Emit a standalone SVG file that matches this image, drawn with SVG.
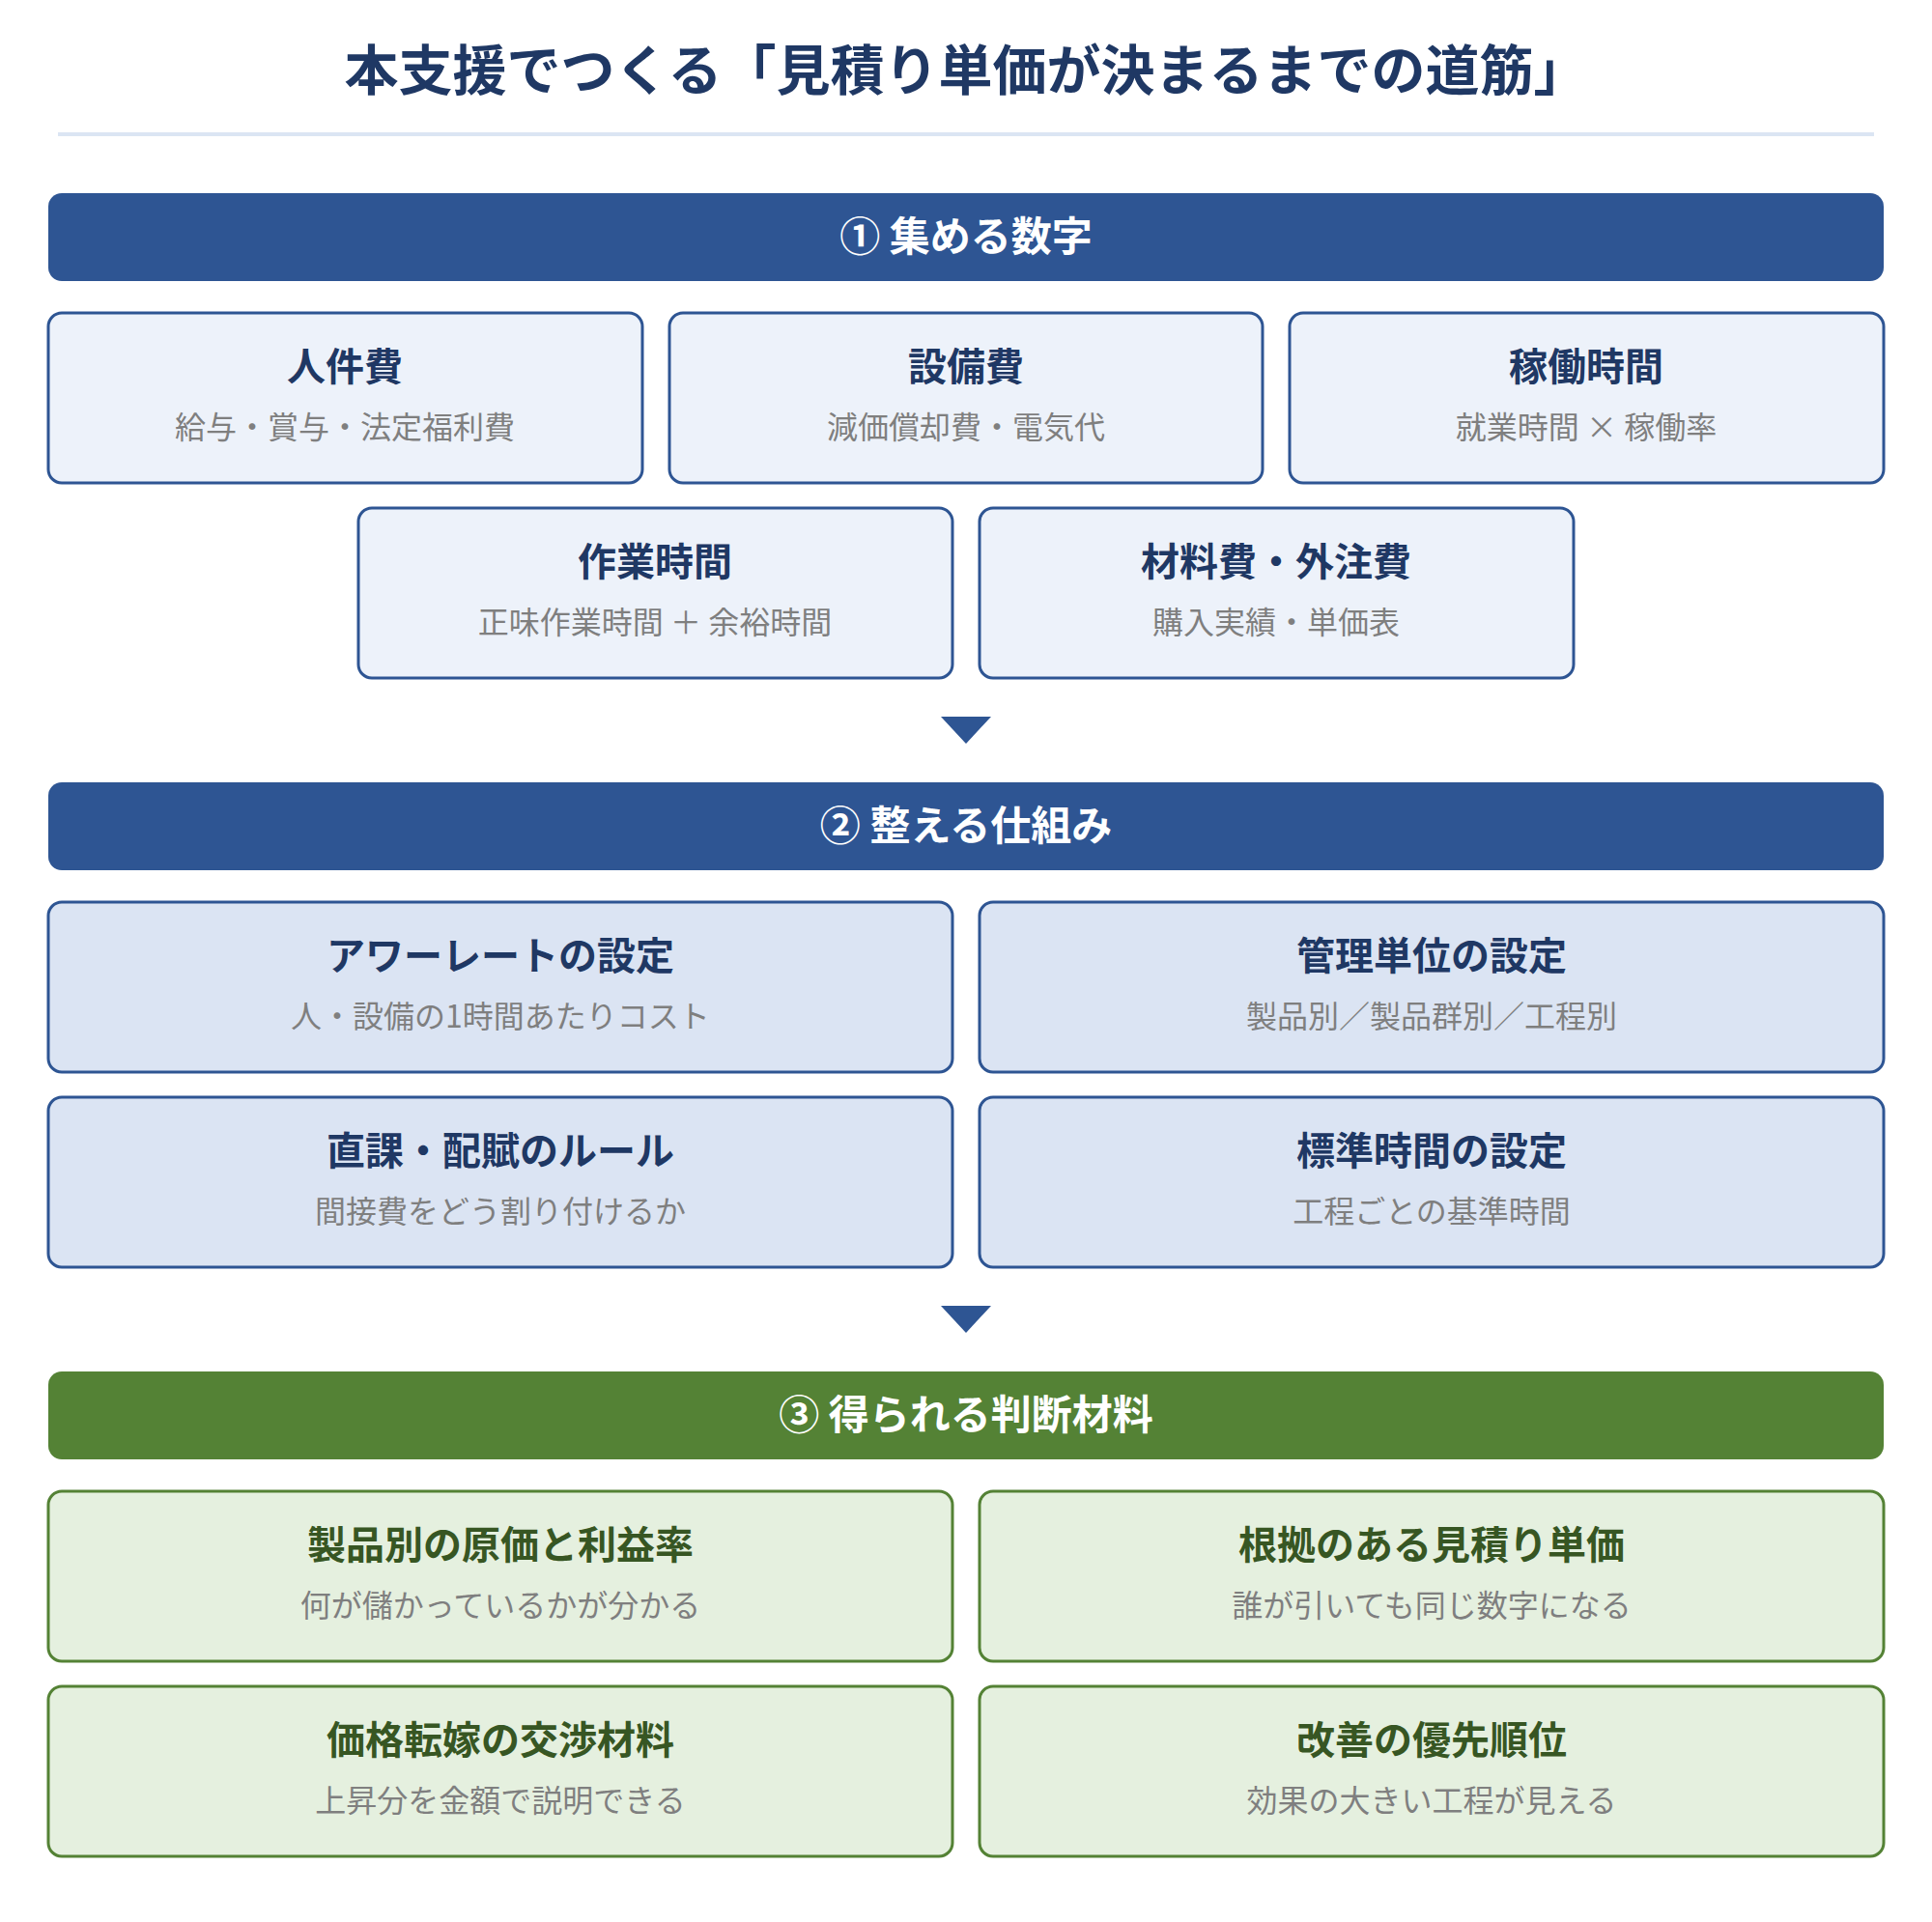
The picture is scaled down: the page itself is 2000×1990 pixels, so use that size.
<svg xmlns="http://www.w3.org/2000/svg" width="2000" height="1990" viewBox="0 0 2000 1990">
<style>
text{font-family:"Noto Sans CJK JP","Noto Sans",sans-serif;text-anchor:middle}
.ttl{font-size:56px;font-weight:700;fill:#1f3864}
.bar{fill:#2e5593}
.barg{fill:#548235}
.bt{font-size:42px;font-weight:700;fill:#fff}
.b1{fill:#edf2fa;stroke:#2e5593;stroke-width:3}
.b2{fill:#dbe4f3;stroke:#2e5593;stroke-width:3}
.b3{fill:#e5f0df;stroke:#548235;stroke-width:3}
.h{font-size:40px;font-weight:700;fill:#1f3864}
.hg{font-size:40px;font-weight:700;fill:#375623}
.s{font-size:32px;fill:#7f7f7f}
.arr{fill:#2e5593}
</style>
<rect width="2000" height="1990" fill="#fff"/>
<text class="ttl" x="1000" y="93">本支援でつくる「見積り単価が決まるまでの道筋」</text>
<line x1="60" y1="139" x2="1940" y2="139" stroke="#dbe5f3" stroke-width="4"/>
<g id="sec1"><rect class="bar" x="50" y="200" width="1900" height="91" rx="14"/><text class="bt" x="1000" y="260">① 集める数字</text></g>
<g id="n1"><rect class="b1" x="50" y="324" width="615" height="176" rx="14"/><text class="h" x="357" y="394">人件費</text><text class="s" x="357" y="454">給与・賞与・法定福利費</text></g>
<g id="n2"><rect class="b1" x="693" y="324" width="614" height="176" rx="14"/><text class="h" x="1000" y="394">設備費</text><text class="s" x="1000" y="454">減価償却費・電気代</text></g>
<g id="n3"><rect class="b1" x="1335" y="324" width="615" height="176" rx="14"/><text class="h" x="1642" y="394">稼働時間</text><text class="s" x="1642" y="454">就業時間 × 稼働率</text></g>
<g id="n4"><rect class="b1" x="371" y="526" width="615" height="176" rx="14"/><text class="h" x="678" y="596">作業時間</text><text class="s" x="678" y="656">正味作業時間 ＋ 余裕時間</text></g>
<g id="n5"><rect class="b1" x="1014" y="526" width="615" height="176" rx="14"/><text class="h" x="1321" y="596">材料費・外注費</text><text class="s" x="1321" y="656">購入実績・単価表</text></g>
<g id="connectors">
<polygon class="arr" points="974,742 1026,742 1000,770"/>
<polygon class="arr" points="974,1352 1026,1352 1000,1380"/>
</g>
<g id="sec2"><rect class="bar" x="50" y="810" width="1900" height="91" rx="14"/><text class="bt" x="1000" y="870">② 整える仕組み</text></g>
<g id="n6"><rect class="b2" x="50" y="934" width="936" height="176" rx="14"/><text class="h" x="518" y="1004">アワーレートの設定</text><text class="s" x="518" y="1064">人・設備の1時間あたりコスト</text></g>
<g id="n7"><rect class="b2" x="1014" y="934" width="936" height="176" rx="14"/><text class="h" x="1482" y="1004">管理単位の設定</text><text class="s" x="1482" y="1064">製品別／製品群別／工程別</text></g>
<g id="n8"><rect class="b2" x="50" y="1136" width="936" height="176" rx="14"/><text class="h" x="518" y="1206">直課・配賦のルール</text><text class="s" x="518" y="1266">間接費をどう割り付けるか</text></g>
<g id="n9"><rect class="b2" x="1014" y="1136" width="936" height="176" rx="14"/><text class="h" x="1482" y="1206">標準時間の設定</text><text class="s" x="1482" y="1266">工程ごとの基準時間</text></g>
<g id="sec3"><rect class="barg" x="50" y="1420" width="1900" height="91" rx="14"/><text class="bt" x="1000" y="1480">③ 得られる判断材料</text></g>
<g id="n10"><rect class="b3" x="50" y="1544" width="936" height="176" rx="14"/><text class="hg" x="518" y="1614">製品別の原価と利益率</text><text class="s" x="518" y="1674">何が儲かっているかが分かる</text></g>
<g id="n11"><rect class="b3" x="1014" y="1544" width="936" height="176" rx="14"/><text class="hg" x="1482" y="1614">根拠のある見積り単価</text><text class="s" x="1482" y="1674">誰が引いても同じ数字になる</text></g>
<g id="n12"><rect class="b3" x="50" y="1746" width="936" height="176" rx="14"/><text class="hg" x="518" y="1816">価格転嫁の交渉材料</text><text class="s" x="518" y="1876">上昇分を金額で説明できる</text></g>
<g id="n13"><rect class="b3" x="1014" y="1746" width="936" height="176" rx="14"/><text class="hg" x="1482" y="1816">改善の優先順位</text><text class="s" x="1482" y="1876">効果の大きい工程が見える</text></g>
</svg>
